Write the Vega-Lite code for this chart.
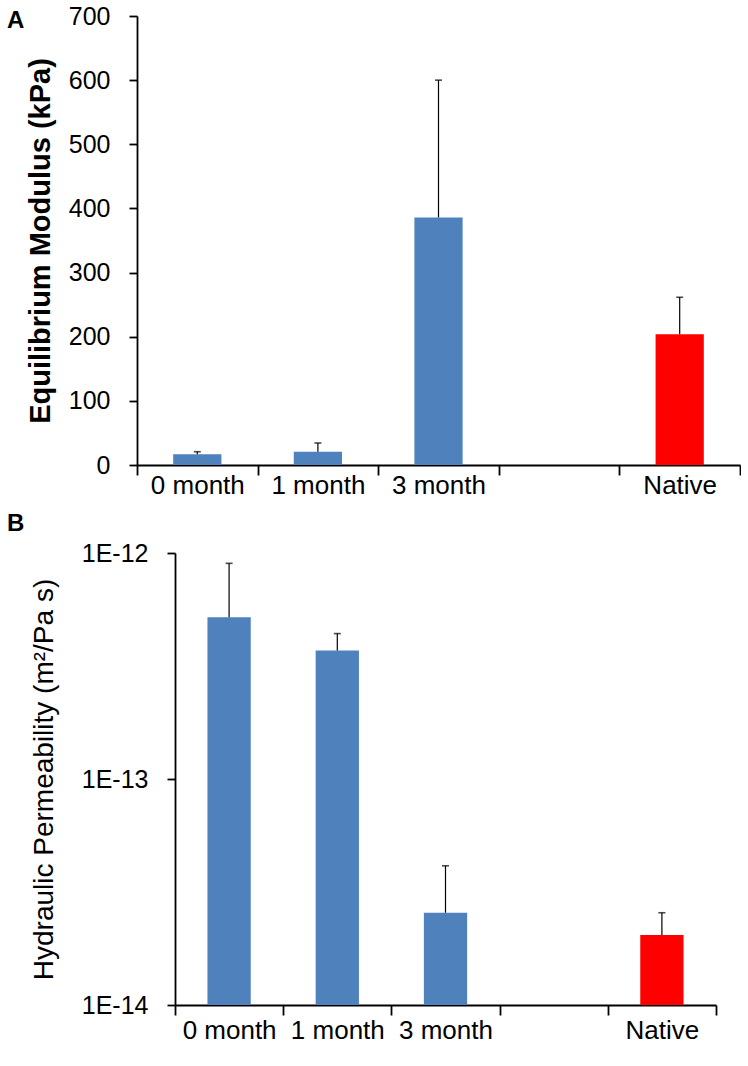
{
  "$schema": "https://vega.github.io/schema/vega-lite/v6.json",
  "padding": {"left": 7, "top": 4, "right": 0, "bottom": 0},
  "background": "white",
  "bounds": "flush",
  "spacing": 88,
  "config": {
    "font": "Liberation Sans",
    "view": {"stroke": null},
    "axis": {
      "grid": false,
      "domainColor": "black",
      "tickColor": "black",
      "labelColor": "black",
      "titleColor": "black",
      "labelFont": "Liberation Sans",
      "titleFont": "Liberation Sans",
      "labelFontSize": 25,
      "labelFontWeight": "normal",
      "domainWidth": 1.8,
      "tickWidth": 1.8
    },
    "title": {"font": "Liberation Sans", "color": "black"}
  },
  "datasets": {
    "modulus": [
      {"group": "0 month", "value": 16.7, "upper": 20.7, "kind": "engineered"},
      {"group": "1 month", "value": 20.7, "upper": 34.3, "kind": "engineered"},
      {"group": "3 month", "value": 386, "upper": 600, "kind": "engineered"},
      {"group": "Native", "value": 204, "upper": 261.5, "kind": "native"}
    ],
    "permeability": [
      {"group": "0 month", "value": 5.2e-13, "upper": 9.0e-13, "kind": "engineered"},
      {"group": "1 month", "value": 3.7e-13, "upper": 4.4e-13, "kind": "engineered"},
      {"group": "3 month", "value": 2.56e-14, "upper": 4.13e-14, "kind": "engineered"},
      {"group": "Native", "value": 2.04e-14, "upper": 2.56e-14, "kind": "native"}
    ]
  },
  "vconcat": [
    {
      "width": 603,
      "height": 449,
      "title": {"text": "A", "anchor": "start", "frame": "group", "fontSize": 24, "fontWeight": "bold", "dx": -130, "offset": 0, "baseline": "alphabetic", "dy": 48},
      "data": {"name": "modulus"},
      "encoding": {
        "x": {
          "field": "group",
          "type": "nominal",
          "sort": null,
          "scale": {"domain": ["0 month", "1 month", "3 month", " ", "Native"], "paddingInner": 0, "paddingOuter": 0},
          "axis": {"title": null, "labelAngle": 0, "tickBand": "extent", "tickSize": 10, "labelPadding": -3, "labelFontSize": 26}
        }
      },
      "layer": [
        {
          "mark": {"type": "bar", "width": {"band": 0.4}},
          "encoding": {
            "y": {
              "field": "value",
              "type": "quantitative",
              "scale": {"domain": [0, 700], "nice": false},
              "axis": {"title": "Equilibrium Modulus (kPa)", "titleFontSize": 29, "titleFontWeight": "bold", "values": [0, 100, 200, 300, 400, 500, 600, 700], "tickSize": 8, "labelPadding": 19, "titleX": -97, "titleBaseline": "middle"}
            },
            "color": {"field": "kind", "type": "nominal", "scale": {"domain": ["engineered", "native"], "range": ["#4F81BD", "#FF0000"]}, "legend": null}
          }
        },
        {
          "mark": {"type": "rule", "color": "black", "strokeWidth": 1.2},
          "encoding": {
            "y": {"field": "value", "type": "quantitative", "axis": {"title": "Equilibrium Modulus (kPa)", "titleFontSize": 29, "titleFontWeight": "bold", "values": [0, 100, 200, 300, 400, 500, 600, 700], "tickSize": 8, "labelPadding": 19, "titleX": -97, "titleBaseline": "middle"}},
            "y2": {"field": "upper"}
          }
        },
        {
          "mark": {"type": "tick", "color": "black", "thickness": 1.6, "size": 7},
          "encoding": {
            "y": {"field": "upper", "type": "quantitative", "axis": {"title": "Equilibrium Modulus (kPa)", "titleFontSize": 29, "titleFontWeight": "bold", "values": [0, 100, 200, 300, 400, 500, 600, 700], "tickSize": 8, "labelPadding": 19, "titleX": -97, "titleBaseline": "middle"}}
          }
        }
      ]
    },
    {
      "width": 579,
      "height": 452,
      "title": {"text": "B", "anchor": "start", "frame": "group", "fontSize": 24, "fontWeight": "bold", "dx": -130, "offset": 0, "baseline": "alphabetic", "dy": 14},
      "data": {"name": "permeability"},
      "encoding": {
        "x": {
          "field": "group",
          "type": "nominal",
          "sort": null,
          "scale": {"domain": ["0 month", "1 month", "3 month", " ", "Native"], "range": [38, 579], "paddingInner": 0, "paddingOuter": 0},
          "axis": {"title": null, "labelAngle": 0, "tickBand": "extent", "tickSize": 10, "labelPadding": 2, "labelFontSize": 26}
        }
      },
      "layer": [
        {
          "mark": {"type": "bar", "width": {"band": 0.4}},
          "encoding": {
            "y": {
              "field": "value",
              "type": "quantitative",
              "scale": {"type": "log", "domain": [1e-14, 1e-12], "nice": false},
              "axis": {"title": "Hydraulic Permeability (m²/Pa s)", "titleFontSize": 28, "titleFontWeight": "normal", "values": [1e-14, 1e-13, 1e-12], "labelExpr": "upper(format(datum.value, '.0e'))", "tickSize": 8, "labelPadding": 19, "offset": -38, "titleX": -131, "titleBaseline": "middle"}
            },
            "y2": {"datum": 1e-14},
            "color": {"field": "kind", "type": "nominal", "scale": {"domain": ["engineered", "native"], "range": ["#4F81BD", "#FF0000"]}, "legend": null}
          }
        },
        {
          "mark": {"type": "rule", "color": "black", "strokeWidth": 1.2},
          "encoding": {
            "y": {"field": "value", "type": "quantitative", "axis": {"title": "Hydraulic Permeability (m²/Pa s)", "titleFontSize": 28, "titleFontWeight": "normal", "values": [1e-14, 1e-13, 1e-12], "labelExpr": "upper(format(datum.value, '.0e'))", "tickSize": 8, "labelPadding": 19, "offset": -38, "titleX": -131, "titleBaseline": "middle"}},
            "y2": {"field": "upper"}
          }
        },
        {
          "mark": {"type": "tick", "color": "black", "thickness": 1.6, "size": 7},
          "encoding": {
            "y": {"field": "upper", "type": "quantitative", "axis": {"title": "Hydraulic Permeability (m²/Pa s)", "titleFontSize": 28, "titleFontWeight": "normal", "values": [1e-14, 1e-13, 1e-12], "labelExpr": "upper(format(datum.value, '.0e'))", "tickSize": 8, "labelPadding": 19, "offset": -38, "titleX": -131, "titleBaseline": "middle"}}
          }
        }
      ]
    }
  ]
}
